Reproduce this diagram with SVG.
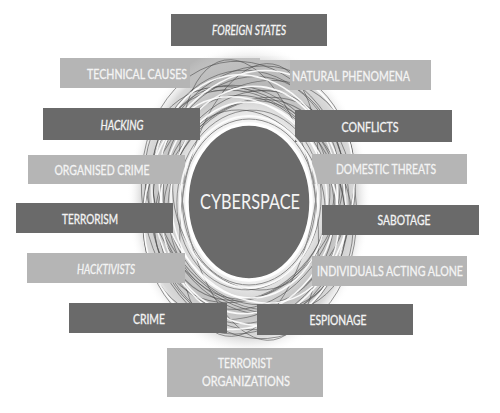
<svg xmlns="http://www.w3.org/2000/svg" width="500" height="413" viewBox="0 0 500 413">
<defs>
<radialGradient id="nestg" cx="0.5" cy="0.5" r="0.5">
<stop offset="0" stop-color="#ffffff"/>
<stop offset="0.5" stop-color="#f2f2f2"/>
<stop offset="0.72" stop-color="#b8b8b8"/>
<stop offset="0.88" stop-color="#d2d2d2"/>
<stop offset="1" stop-color="#ffffff" stop-opacity="0"/>
</radialGradient>
<clipPath id="bandclip"><rect x="190" y="56" width="100" height="36"/></clipPath>
<style>
.dark{fill:#6a6a6a}
.light{fill:#b5b5b5}
.t{font-family:Lato,"Open Sans","DejaVu Sans",sans-serif;font-size:13px;fill:#f4f4f4;stroke:#f4f4f4;stroke-width:0.3;text-anchor:middle}
.i{font-style:italic}
.w{fill:none;stroke:#4a4a4a;stroke-width:0.9;opacity:0.6}
.h{fill:none;stroke:#ffffff;stroke-width:1.6;opacity:0.9}
</style>
<g id="strokes" transform="translate(249 200)">
<ellipse class="w" rx="72" ry="90" transform="rotate(5)"/>
<ellipse class="w" rx="80" ry="100" transform="rotate(12)"/>
<ellipse class="w" rx="84" ry="106" transform="rotate(-15)"/>
<ellipse class="w" rx="88" ry="112" transform="rotate(20)"/>
<ellipse class="w" rx="92" ry="118" transform="rotate(-22)"/>
<ellipse class="w" rx="96" ry="124" transform="rotate(8)"/>
<ellipse class="w" rx="100" ry="130" transform="rotate(-5)"/>
<ellipse class="w" rx="104" ry="136" transform="rotate(15)"/>
<ellipse class="w" rx="106" ry="140" transform="rotate(-12)"/>
<ellipse class="w" rx="74" ry="92" transform="rotate(-20)"/>
<ellipse class="w" rx="82" ry="104" transform="rotate(25)"/>
<ellipse class="w" rx="90" ry="116" transform="rotate(-30)"/>
<ellipse class="w" rx="98" ry="126" transform="rotate(30)"/>
<ellipse class="w" rx="86" ry="110" transform="rotate(35)"/>
<ellipse class="w" rx="94" ry="122" transform="rotate(-35)"/>
<ellipse class="w" rx="66" ry="138" transform="rotate(10)"/>
<ellipse class="w" rx="66" ry="142" transform="rotate(-10)"/>
<ellipse class="h" rx="78" ry="98" transform="rotate(-3)"/>
<ellipse class="h" rx="88" ry="114" transform="rotate(6)"/>
<ellipse class="h" rx="96" ry="126" transform="rotate(-10)"/>
<ellipse class="h" rx="102" ry="132" transform="rotate(18)"/>
<ellipse class="h" rx="84" ry="108" transform="rotate(-28)"/>
</g>
</defs>
<rect width="500" height="413" fill="#ffffff"/>

<g id="nest">
<ellipse cx="249" cy="200" rx="122" ry="156" fill="url(#nestg)" opacity="0.85"/>
<use href="#strokes"/>
</g>

<g id="technical-causes">
<rect class="light" x="60" y="58" width="200" height="30"/>
<text class="t" x="137" y="79" textLength="100" lengthAdjust="spacingAndGlyphs">TECHNICAL CAUSES</text>
</g>
<g id="natural-phenomena">
<rect class="light" x="255" y="60" width="176" height="30"/>
<text class="t" x="351" y="81" textLength="118" lengthAdjust="spacingAndGlyphs">NATURAL PHENOMENA</text>
</g>
<g id="nest-over-band" clip-path="url(#bandclip)">
<ellipse cx="249" cy="200" rx="122" ry="156" fill="url(#nestg)" opacity="0.35"/>
<use href="#strokes"/>
</g>

<g id="foreign-states">
<rect class="dark" x="171" y="14" width="156" height="32"/>
<text class="t i" x="249" y="35" textLength="74" lengthAdjust="spacingAndGlyphs">FOREIGN STATES</text>
</g>
<g id="hacking">
<rect class="dark" x="43" y="108" width="157" height="32"/>
<text class="t i" x="122" y="130" textLength="43" lengthAdjust="spacingAndGlyphs">HACKING</text>
</g>
<g id="conflicts">
<rect class="dark" x="295" y="110" width="157" height="32"/>
<text class="t" x="370" y="132" textLength="57" lengthAdjust="spacingAndGlyphs">CONFLICTS</text>
</g>
<g id="organised-crime">
<rect class="light" x="28" y="155" width="157" height="29"/>
<text class="t" x="102" y="175" textLength="95" lengthAdjust="spacingAndGlyphs">ORGANISED CRIME</text>
</g>
<g id="domestic-threats">
<rect class="light" x="312" y="154" width="155" height="30"/>
<text class="t" x="386" y="174" textLength="100" lengthAdjust="spacingAndGlyphs">DOMESTIC THREATS</text>
</g>
<g id="terrorism">
<rect class="dark" x="16" y="203" width="157" height="30"/>
<text class="t" x="90" y="224" textLength="56" lengthAdjust="spacingAndGlyphs">TERRORISM</text>
</g>
<g id="sabotage">
<rect class="dark" x="322" y="205" width="157" height="30"/>
<text class="t" x="404" y="225" textLength="53" lengthAdjust="spacingAndGlyphs">SABOTAGE</text>
</g>
<g id="hacktivists">
<rect class="light" x="27" y="253" width="158" height="30"/>
<text class="t i" x="106" y="274" textLength="58" lengthAdjust="spacingAndGlyphs">HACKTIVISTS</text>
</g>
<g id="individuals-acting-alone">
<rect class="light" x="312" y="256" width="155" height="30"/>
<text class="t" x="390" y="276" textLength="146" lengthAdjust="spacingAndGlyphs">INDIVIDUALS ACTING ALONE</text>
</g>
<g id="crime">
<rect class="dark" x="69" y="303" width="158" height="30"/>
<text class="t" x="149" y="324" textLength="32" lengthAdjust="spacingAndGlyphs">CRIME</text>
</g>
<g id="espionage">
<rect class="dark" x="257" y="304" width="156" height="31"/>
<text class="t" x="338" y="325" textLength="57" lengthAdjust="spacingAndGlyphs">ESPIONAGE</text>
</g>
<g id="terrorist-organizations">
<rect class="light" x="167" y="348" width="156" height="49"/>
<text class="t" x="245" y="368" textLength="54" lengthAdjust="spacingAndGlyphs">TERRORIST</text>
<text class="t" x="246" y="386" textLength="88" lengthAdjust="spacingAndGlyphs">ORGANIZATIONS</text>
</g>

<g id="cyberspace">
<ellipse cx="249" cy="202" rx="69" ry="86" fill="none" stroke="#ffffff" stroke-width="2" opacity="0.85"/>
<ellipse cx="249" cy="202" rx="66.5" ry="83" fill="none" stroke="#8a8a8a" stroke-width="1"/>
<ellipse cx="249" cy="202" rx="62" ry="78" fill="#6a6a6a" stroke="#ffffff" stroke-width="3.5"/>
<text x="250" y="209" font-family="Lato,'Open Sans','DejaVu Sans',sans-serif" font-size="21" fill="#f4f4f4" text-anchor="middle" textLength="100" lengthAdjust="spacingAndGlyphs">CYBERSPACE</text>
</g>
</svg>
